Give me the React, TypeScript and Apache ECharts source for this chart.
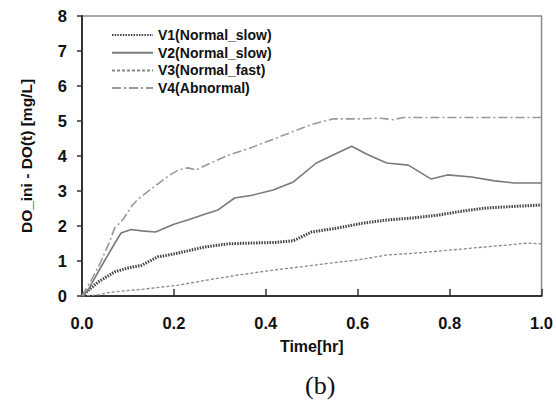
import React, { useEffect, useRef } from "react";
import * as echarts from "echarts";

const seriesNames = ["V1(Normal_slow)", "V2(Normal_slow)", "V3(Normal_fast)", "V4(Abnormal)"];

const v1: [number, number][] = [
  [0, 0], [0.035, 0.4], [0.071, 0.69], [0.1, 0.8], [0.13, 0.88], [0.165, 1.12], [0.2, 1.2],
  [0.23, 1.29], [0.267, 1.4], [0.318, 1.49], [0.36, 1.51], [0.42, 1.53], [0.46, 1.58],
  [0.5, 1.83], [0.55, 1.93], [0.61, 2.08], [0.663, 2.17], [0.72, 2.23], [0.774, 2.31],
  [0.83, 2.43], [0.876, 2.51], [0.94, 2.56], [1.0, 2.6],
];
const v2: [number, number][] = [
  [0, 0], [0.013, 0.17], [0.04, 0.8], [0.071, 1.5], [0.085, 1.8], [0.107, 1.9], [0.13, 1.86],
  [0.16, 1.83], [0.2, 2.05], [0.23, 2.17], [0.27, 2.35], [0.296, 2.46], [0.332, 2.8],
  [0.37, 2.88], [0.416, 3.03], [0.46, 3.26], [0.51, 3.8], [0.55, 4.05], [0.587, 4.28],
  [0.62, 4.05], [0.663, 3.8], [0.71, 3.74], [0.76, 3.34], [0.795, 3.46], [0.848, 3.4],
  [0.898, 3.29], [0.94, 3.23], [1.0, 3.23],
];
const v3: [number, number][] = [
  [0, 0], [0.035, 0.03], [0.063, 0.11], [0.137, 0.2], [0.21, 0.31], [0.27, 0.45], [0.34, 0.6],
  [0.416, 0.74], [0.48, 0.84], [0.54, 0.94], [0.6, 1.03], [0.663, 1.17], [0.72, 1.22],
  [0.774, 1.28], [0.876, 1.4], [0.97, 1.51], [1.0, 1.49],
];
const v4: [number, number][] = [
  [0, 0], [0.02, 0.45], [0.04, 0.95], [0.06, 1.55], [0.071, 1.94], [0.09, 2.2], [0.11, 2.6],
  [0.122, 2.77], [0.15, 3.05], [0.19, 3.45], [0.21, 3.6], [0.23, 3.66], [0.248, 3.6],
  [0.28, 3.8], [0.32, 4.03], [0.36, 4.2], [0.4, 4.4], [0.45, 4.65], [0.5, 4.9], [0.546, 5.06],
  [0.6, 5.06], [0.65, 5.08], [0.676, 5.04], [0.7, 5.1], [0.8, 5.1], [0.9, 5.1], [1.0, 5.1],
];

const xTitle = "Time[hr]";
const yTitle = "DO_ini - DO(t) [mg/L]";
const caption = "(b)";

const FONT = "'Liberation Sans', Arial, sans-serif";

export default function App() {
  const ref = useRef<HTMLDivElement>(null);
  useEffect(() => {
    if (!ref.current) return;
    const chart = echarts.init(ref.current, undefined, { renderer: "svg" });
    chart.setOption({
      animation: false,
      backgroundColor: "#fff",
      grid: {
        left: 82, right: 14, top: 16, bottom: 109,
        show: true, borderColor: "#8a8a8a", borderWidth: 1.5,
      },
      legend: {
        orient: "vertical",
        left: 111,
        top: 28,
        itemWidth: 41,
        itemHeight: 10,
        itemGap: 3.7,
        padding: 0,
        itemStyle: { opacity: 0 },
        textStyle: { fontFamily: FONT, fontWeight: "bold", fontSize: 14, lineHeight: 14, color: "#111" },
        data: seriesNames,
      },
      xAxis: {
        type: "value", min: 0, max: 1, interval: 0.2,
        name: xTitle, nameLocation: "middle", nameGap: 42,
        nameTextStyle: { fontFamily: FONT, fontWeight: "bold", fontSize: 16, color: "#111" },
        axisLine: { show: true, lineStyle: { color: "#333", width: 2 } },
        axisTick: { show: true, inside: true, length: 7, lineStyle: { color: "#333", width: 1.5 } },
        axisLabel: {
          fontFamily: FONT, fontWeight: "bold", fontSize: 16.5, color: "#111", margin: 18,
          formatter: (v: number) => v.toFixed(1),
        },
        splitLine: { show: false },
      },
      yAxis: {
        type: "value", min: 0, max: 8, interval: 1,
        name: yTitle, nameLocation: "middle", nameGap: 48,
        nameTextStyle: { fontFamily: FONT, fontWeight: "bold", fontSize: 15.5, color: "#111" },
        axisLine: { show: true, lineStyle: { color: "#333", width: 2 } },
        axisTick: { show: true, inside: false, length: 5, lineStyle: { color: "#333", width: 1.5 } },
        axisLabel: { fontFamily: FONT, fontWeight: "bold", fontSize: 16.5, color: "#111", margin: 15 },
        splitLine: { show: false },
      },
      series: [
        {
          name: seriesNames[0], type: "line", data: v1, symbol: "none",
          lineStyle: { color: "#444", width: 3, type: [1.5, 1.2] },
          itemStyle: { color: "#444" },
        },
        {
          name: seriesNames[1], type: "line", data: v2, symbol: "none",
          lineStyle: { color: "#7a7a7a", width: 1.6, type: "solid" },
          itemStyle: { color: "#7a7a7a" },
        },
        {
          name: seriesNames[2], type: "line", data: v3, symbol: "none",
          lineStyle: { color: "#888", width: 1.3, type: [3, 2] },
          itemStyle: { color: "#888" },
        },
        {
          name: seriesNames[3], type: "line", data: v4, symbol: "none",
          lineStyle: { color: "#999", width: 1.6, type: [9, 3, 2, 3] },
          itemStyle: { color: "#999" },
        },
      ],
      graphic: [
        {
          type: "text", left: 305, top: 372,
          style: { text: caption, font: "26px 'Liberation Serif', 'DejaVu Serif', serif", fill: "#111" },
        },
      ],
    });
    return () => chart.dispose();
  }, []);
  return (
    <div
      ref={ref}
      style={{ position: "fixed", left: 0, top: 0, width: 556, height: 405 }}
    />
  );
}
